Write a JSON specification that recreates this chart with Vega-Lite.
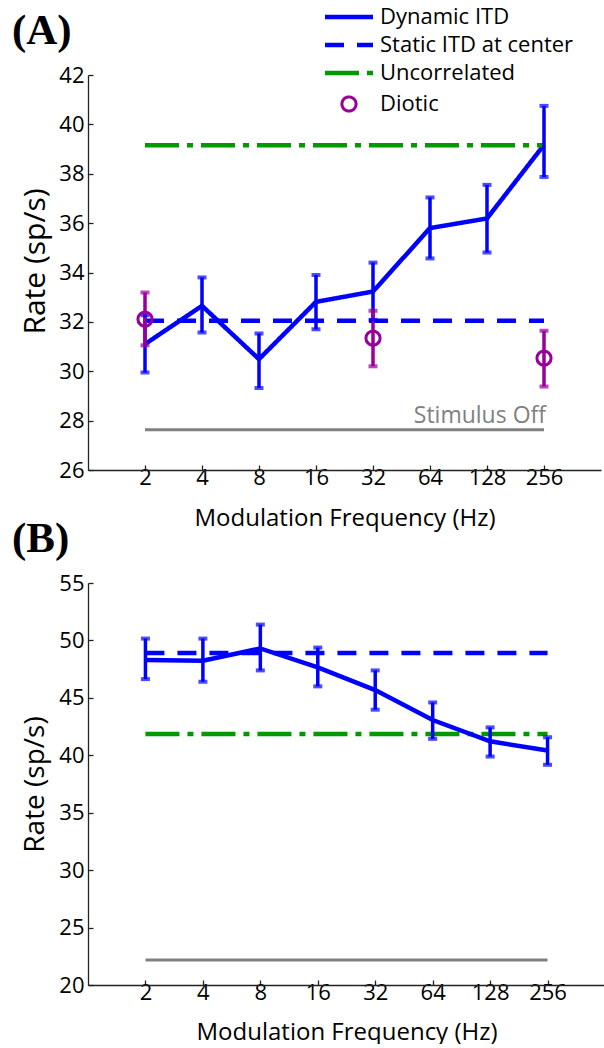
{
  "$schema": "https://vega.github.io/schema/vega-lite/v6.json",
  "padding": {"left": 12, "top": 6, "right": 0, "bottom": 0},
  "spacing": -12,
  "background": "white",
  "config": {
    "view": {"stroke": null},
    "font": "Open Sans",
    "axis": {
      "grid": false,
      "domainColor": "#222222",
      "tickColor": "#222222",
      "domainWidth": 1.3,
      "tickWidth": 1.3,
      "tickSize": -5,
      "labelFont": "Open Sans",
      "titleFont": "Open Sans",
      "labelFontSize": 22,
      "titleFontSize": 24,
      "labelColor": "#000000",
      "titleColor": "#000000",
      "titleFontWeight": "normal"
    },
    "axisX": {"labelPadding": 2, "titlePadding": 18},
    "axisY": {"labelPadding": 9, "titlePadding": 9, "titleFontSize": 28},
    "title": {"font": "Liberation Serif", "fontSize": 43, "fontWeight": "bold", "anchor": "start", "color": "#000000", "offset": 11}
  },
  "datasets": {
    "a": [
      {"series": "Dynamic ITD", "freq": 2, "rate": 31.1, "lo": 29.95, "hi": 32.27},
      {"series": "Dynamic ITD", "freq": 4, "rate": 32.65, "lo": 31.57, "hi": 33.8},
      {"series": "Dynamic ITD", "freq": 8, "rate": 30.49, "lo": 29.32, "hi": 31.53},
      {"series": "Dynamic ITD", "freq": 16, "rate": 32.81, "lo": 31.7, "hi": 33.9},
      {"series": "Dynamic ITD", "freq": 32, "rate": 33.23, "lo": 32.08, "hi": 34.4},
      {"series": "Dynamic ITD", "freq": 64, "rate": 35.8, "lo": 34.57, "hi": 37.04},
      {"series": "Dynamic ITD", "freq": 128, "rate": 36.19, "lo": 34.81, "hi": 37.55},
      {"series": "Dynamic ITD", "freq": 256, "rate": 39.17, "lo": 37.87, "hi": 40.75},
      {"series": "Static ITD at center", "freq": 2, "rate": 32.05},
      {"series": "Static ITD at center", "freq": 256, "rate": 32.05},
      {"series": "Uncorrelated", "freq": 2, "rate": 39.15},
      {"series": "Uncorrelated", "freq": 256, "rate": 39.15},
      {"series": "Diotic", "freq": 2, "rate": 32.11, "lo": 31.05, "hi": 33.19},
      {"series": "Diotic", "freq": 32, "rate": 31.34, "lo": 30.2, "hi": 32.45},
      {"series": "Diotic", "freq": 256, "rate": 30.53, "lo": 29.38, "hi": 31.64},
      {"series": "Stimulus Off", "freq": 2, "rate": 27.63},
      {"series": "Stimulus Off", "freq": 256, "rate": 27.63, "label": "Stimulus Off"}
    ],
    "b": [
      {"series": "Dynamic ITD", "freq": 2, "rate": 48.29, "lo": 46.63, "hi": 50.16},
      {"series": "Dynamic ITD", "freq": 4, "rate": 48.23, "lo": 46.4, "hi": 50.16},
      {"series": "Dynamic ITD", "freq": 8, "rate": 49.3, "lo": 47.39, "hi": 51.38},
      {"series": "Dynamic ITD", "freq": 16, "rate": 47.65, "lo": 46.0, "hi": 49.38},
      {"series": "Dynamic ITD", "freq": 32, "rate": 45.68, "lo": 43.97, "hi": 47.39},
      {"series": "Dynamic ITD", "freq": 64, "rate": 43.07, "lo": 41.43, "hi": 44.6},
      {"series": "Dynamic ITD", "freq": 128, "rate": 41.22, "lo": 39.89, "hi": 42.43},
      {"series": "Dynamic ITD", "freq": 256, "rate": 40.41, "lo": 39.17, "hi": 41.57},
      {"series": "Static ITD at center", "freq": 2, "rate": 48.9},
      {"series": "Static ITD at center", "freq": 256, "rate": 48.9},
      {"series": "Uncorrelated", "freq": 2, "rate": 41.86},
      {"series": "Uncorrelated", "freq": 256, "rate": 41.86},
      {"series": "Stimulus Off", "freq": 2, "rate": 22.17},
      {"series": "Stimulus Off", "freq": 256, "rate": 22.17}
    ]
  },
  "vconcat": [
    {
      "width": 513,
      "height": 395,
      "title": {"text": "(A)", "frame": "group", "dx": -76},
      "data": {"name": "a"},
      "encoding": {
        "x": {"field": "freq", "type": "quantitative",
              "scale": {"type": "log", "base": 2, "domain": [1, 512], "nice": false},
              "axis": {"values": [2, 4, 8, 16, 32, 64, 128, 256], "format": "d", "title": "Modulation Frequency (Hz)"}},
        "y": {"field": "rate", "type": "quantitative",
              "scale": {"domain": [26, 42], "nice": false, "zero": false},
              "axis": {"values": [26, 28, 30, 32, 34, 36, 38, 40, 42], "title": "Rate (sp/s)", "titleFontSize": 30, "titleY": 186, "titlePadding": 8}}
      },
      "layer": [
        {
          "transform": [{"filter": "datum.series === 'Stimulus Off'"}],
          "mark": {"type": "line", "color": "#808080", "strokeWidth": 3}
        },
        {
          "transform": [{"filter": "datum.series === 'Stimulus Off' && datum.label"}],
          "mark": {"type": "text", "color": "#808080", "fontSize": 23, "align": "right", "baseline": "alphabetic", "dy": -7, "dx": 2},
          "encoding": {"text": {"field": "label"}}
        },
        {
          "transform": [{"filter": "datum.series === 'Dynamic ITD' || datum.series === 'Static ITD at center' || datum.series === 'Uncorrelated'"}],
          "mark": {"type": "line", "strokeWidth": 4.5, "strokeCap": "butt"},
          "encoding": {
            "color": {"field": "series", "type": "nominal",
              "scale": {"domain": ["Dynamic ITD", "Static ITD at center", "Uncorrelated", "Diotic"], "range": ["#0000ff", "#0000ff", "#009900", "#990099"]},
              "legend": {
                "title": null, "orient": "none", "legendX": 237, "legendY": -69,
                "labelFontSize": 22, "labelFont": "Open Sans", "labelColor": "#000000", "labelLimit": 400,
                "symbolType": "stroke", "symbolStrokeWidth": 4.5, "rowPadding": 6, "symbolFillColor": "transparent",
                "encode": {
                  "symbols": {"update": {
                    "x": {"value": 24},
                    "shape": {"signal": "datum.value === 'Diotic' ? 'circle' : 'stroke'"},
                    "size": {"signal": "datum.value === 'Diotic' ? 200 : 2304"},
                    "strokeWidth": {"signal": "datum.value === 'Diotic' ? 3 : 4.5"},
                    "strokeDash": {"signal": "datum.value === 'Static ITD at center' ? [19, 13] : datum.value === 'Uncorrelated' ? [34, 8, 6, 8] : [1, 0]"},
                    "fill": {"value": "transparent"},
                    "fillOpacity": {"value": 0}
                  }},
                  "labels": {"update": {"x": {"value": 55}}}
                }
              }},
            "strokeDash": {"field": "series", "type": "nominal",
              "scale": {"domain": ["Dynamic ITD", "Static ITD at center", "Uncorrelated", "Diotic"], "range": [[1, 0], [19, 13], [34, 8, 6, 8], [1, 0]]},
              "legend": null}
          }
        },
        {
          "transform": [{"filter": "datum.lo != null"}],
          "mark": {"type": "rule", "strokeWidth": 3.5},
          "encoding": {
            "y": {"field": "lo", "type": "quantitative"},
            "y2": {"field": "hi"},
            "color": {"field": "series", "type": "nominal", "legend": null}
          }
        },
        {
          "transform": [{"filter": "datum.lo != null"}],
          "mark": {"type": "tick", "orient": "horizontal", "size": 9, "thickness": 4},
          "encoding": {
            "y": {"field": "lo", "type": "quantitative"},
            "color": {"field": "series", "type": "nominal", "legend": null}
          }
        },
        {
          "transform": [{"filter": "datum.lo != null"}],
          "mark": {"type": "tick", "orient": "horizontal", "size": 9, "thickness": 4},
          "encoding": {
            "y": {"field": "hi", "type": "quantitative"},
            "color": {"field": "series", "type": "nominal", "legend": null}
          }
        },
        {
          "transform": [{"filter": "datum.series === 'Diotic'"}],
          "mark": {"type": "point", "shape": "circle", "filled": false, "size": 200, "strokeWidth": 3, "opacity": 1},
          "encoding": {
            "color": {"field": "series", "type": "nominal", "legend": null}
          }
        }
      ]
    },
    {
      "width": 517,
      "height": 402,
      "title": {"text": "(B)", "frame": "group", "dx": -76},
      "data": {"name": "b"},
      "encoding": {
        "x": {"field": "freq", "type": "quantitative",
              "scale": {"type": "log", "base": 2, "domain": [1, 512], "nice": false},
              "axis": {"values": [2, 4, 8, 16, 32, 64, 128, 256], "format": "d", "title": "Modulation Frequency (Hz)", "titlePadding": 17}},
        "y": {"field": "rate", "type": "quantitative",
              "scale": {"domain": [20, 55], "nice": false, "zero": false},
              "axis": {"values": [20, 25, 30, 35, 40, 45, 50, 55], "title": "Rate (sp/s)"}}
      },
      "layer": [
        {
          "transform": [{"filter": "datum.series === 'Stimulus Off'"}],
          "mark": {"type": "line", "color": "#808080", "strokeWidth": 3}
        },
        {
          "transform": [{"filter": "datum.series === 'Uncorrelated'"}],
          "mark": {"type": "line", "color": "#009900", "strokeWidth": 4.5, "strokeDash": [34, 8, 6, 8], "strokeCap": "butt"}
        },
        {
          "transform": [{"filter": "datum.series === 'Static ITD at center'"}],
          "mark": {"type": "line", "color": "#0000ff", "strokeWidth": 4.5, "strokeDash": [19, 13], "strokeCap": "butt"}
        },
        {
          "transform": [{"filter": "datum.series === 'Dynamic ITD'"}],
          "mark": {"type": "line", "color": "#0000ff", "strokeWidth": 4.5}
        },
        {
          "transform": [{"filter": "datum.lo != null"}],
          "mark": {"type": "rule", "color": "#0000ff", "strokeWidth": 3.5},
          "encoding": {"y": {"field": "lo", "type": "quantitative"}, "y2": {"field": "hi"}}
        },
        {
          "transform": [{"filter": "datum.lo != null"}],
          "mark": {"type": "tick", "color": "#0000ff", "orient": "horizontal", "size": 9, "thickness": 4},
          "encoding": {"y": {"field": "lo", "type": "quantitative"}}
        },
        {
          "transform": [{"filter": "datum.lo != null"}],
          "mark": {"type": "tick", "color": "#0000ff", "orient": "horizontal", "size": 9, "thickness": 4},
          "encoding": {"y": {"field": "hi", "type": "quantitative"}}
        }
      ]
    }
  ]
}
